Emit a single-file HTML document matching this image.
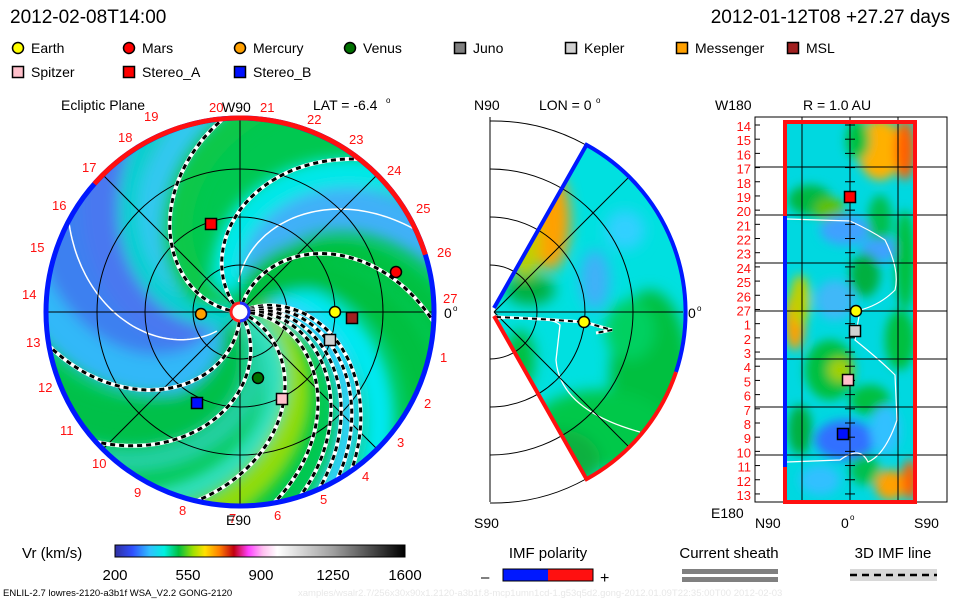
<!DOCTYPE html>
<html><head><meta charset="utf-8">
<style>
body{margin:0;background:#fff;}
svg{display:block;font-family:"Liberation Sans","DejaVu Sans",sans-serif;}
</style></head>
<body>
<svg id="s" width="960" height="600" viewBox="0 0 960 600" xmlns="http://www.w3.org/2000/svg">
<defs>
<clipPath id="disk"><circle cx="240" cy="312" r="194"/></clipPath>
<clipPath id="wedge"><path d="M494,312 L586.5,144.9 A191,191 0 0 1 586.5,479.1 Z"/></clipPath>
<clipPath id="rect"><rect x="785" y="122" width="130" height="380"/></clipPath>
<filter id="bl" x="-20%" y="-20%" width="140%" height="140%"><feGaussianBlur stdDeviation="7"/></filter>
<filter id="bl2" x="-20%" y="-20%" width="140%" height="140%"><feGaussianBlur stdDeviation="5"/></filter>
<linearGradient id="cb" x1="0" x2="1" y1="0" y2="0">
<stop offset="0" stop-color="#3030a0"/><stop offset="0.06" stop-color="#3050ff"/>
<stop offset="0.12" stop-color="#30c0ff"/><stop offset="0.17" stop-color="#00f0e0"/>
<stop offset="0.22" stop-color="#00c040"/><stop offset="0.27" stop-color="#a0e000"/>
<stop offset="0.31" stop-color="#ffe000"/><stop offset="0.36" stop-color="#ff8000"/>
<stop offset="0.41" stop-color="#c00010"/><stop offset="0.46" stop-color="#ff40ff"/>
<stop offset="0.51" stop-color="#ffc0f0"/><stop offset="0.56" stop-color="#ffffff"/>
<stop offset="0.75" stop-color="#a0a0a0"/><stop offset="1" stop-color="#000000"/>
</linearGradient>
</defs>
<g id="g"></g>
</svg>
<script>
var NS="http://www.w3.org/2000/svg",G=document.getElementById('g');
function el(t,a,p){var e=document.createElementNS(NS,t);for(var k in a)e.setAttribute(k,a[k]);(p||G).appendChild(e);return e;}
function tx(x,y,s,a){a=a||{};a.x=x;a.y=y;a['font-size']=a['font-size']||14;var e=el('text',a);e.textContent=s;return e;}
var cx=240,cy=312,R=194,K=0.0072;
function spiral(phiRimDeg,r0,r1){var pts=[];var pr=phiRimDeg*Math.PI/180;for(var r=r0;r<=r1;r+=3){var p=pr-K*(R-r);pts.push((cx+r*Math.cos(p)).toFixed(1)+','+(cy+r*Math.sin(p)).toFixed(1));}return pts.join(' ');}
var dg=el('g',{'clip-path':'url(#disk)'});
el('circle',{cx:cx,cy:cy,r:R,fill:'#00c850'},dg);
var bands=el('g',{filter:'url(#bl)'},dg);
[[205,'#3c80f0',75],[230,'#4a78f0',55],[180,'#30b8f8',40],[255,'#30c8f0',35],[150,'#00c048',45],[130,'#20d0a0',25],[-25,'#40b0f8',45],[-45,'#00e8e8',30],[45,'#00e8f0',30],[62,'#30d0ff',22],[95,'#90dc10',30],[110,'#30e0c0',20],[-90,'#10c848',30],[-120,'#00d0d0',20],[20,'#00c040',30],[0,'#00c040',20]].forEach(function(b){
 el('polyline',{points:spiral(b[0],0,R+40),fill:'none',stroke:b[1],'stroke-width':b[2]},bands);});
el('polyline',{points:spiral(208,30,R),fill:'none',stroke:'#fff','stroke-width':1.5},dg);
el('polyline',{points:spiral(-25,30,R),fill:'none',stroke:'#fff','stroke-width':1.5},dg);
var gg=el('g',{stroke:'#000','stroke-width':1,fill:'none'},dg);
[47,95,143].forEach(function(r){el('circle',{cx:cx,cy:cy,r:r},gg);});
el('line',{x1:cx-R,y1:cy,x2:cx+R,y2:cy},gg);el('line',{x1:cx,y1:cy-R,x2:cx,y2:cy+R},gg);
el('line',{x1:cx-140,y1:cy-140,x2:cx+140,y2:cy+140},gg);el('line',{x1:cx-140,y1:cy+140,x2:cx+140,y2:cy-140},gg);
[-95,-52,3,55,60,66,72,80,103,138,170].forEach(function(a){
 var p=spiral(a,10,R);
 el('polyline',{points:p,fill:'none',stroke:'#fff','stroke-width':4},dg);
 el('polyline',{points:p,fill:'none',stroke:'#000','stroke-width':3,'stroke-dasharray':'5,4'},dg);});
el('circle',{cx:cx,cy:cy,r:R,fill:'none',stroke:'#0018ff','stroke-width':5});
el('path',{d:'M'+(cx+R*Math.cos(-2.42))+','+(cy+R*Math.sin(-2.42))+' A'+R+','+R+' 0 0 1 '+(cx+R*Math.cos(-0.3))+','+(cy+R*Math.sin(-0.3)),fill:'none',stroke:'#ff1010','stroke-width':5});
el('circle',{cx:cx,cy:cy,r:9,fill:'#fff',stroke:'#ff2020','stroke-width':3});
el('path',{d:'M240,303 A9,9 0 0 1 240,321',fill:'none',stroke:'#2030ff','stroke-width':3});
var L=[['19',144,121],['20',209,112],['21',260,112],['22',307,124],['23',349,144],['24',387,175],['25',416,213],['26',437,257],['27',443,303],['1',440,362],['2',424,408],['3',397,447],['4',362,481],['5',320,504],['6',274,520],['7',229,523],['8',179,515],['9',134,497],['10',92,468],['11',60,435],['12',38,392],['13',26,347],['14',22,299],['15',30,252],['16',52,210],['17',82,172],['18',118,142]];
L.forEach(function(l){tx(l[1],l[2],l[0],{fill:'#ff1010','font-size':13});});
tx(444,318,'0',{'font-size':14});tx(453,311,'o',{'font-size':8});
tx(222,112,'W90',{'font-size':14});tx(226,525,'E90',{'font-size':14});
tx(61,110,'Ecliptic Plane',{'font-size':14});tx(313,110,'LAT = -6.4',{'font-size':14});tx(386,103,'o',{'font-size':8});
function circ(x,y,c){el('circle',{cx:x,cy:y,r:5.5,fill:c,stroke:'#000','stroke-width':1.5});}
function sq(x,y,c){el('rect',{x:x-5.5,y:y-5.5,width:11,height:11,fill:c,stroke:'#000','stroke-width':1.5});}
circ(396,272,'#ff0000');circ(335,312,'#ffff00');circ(201,314,'#ffa000');circ(258,378,'#007000');
sq(211,224,'#ff0000');sq(352,318,'#a02020');sq(330,340,'#d0d0d0');sq(282,399,'#ffc0cb');sq(197,403,'#0010ff');
var wg=el('g',{'clip-path':'url(#wedge)'});
el('rect',{x:490,y:117,width:200,height:390,fill:'#00e0e0'},wg);
var wb=el('g',{filter:'url(#bl)'},wg);
el('ellipse',{cx:650,cy:380,rx:40,ry:90,fill:'#00c040'},wb);
el('ellipse',{cx:600,cy:430,rx:70,ry:40,fill:'#00c848'},wb);
el('ellipse',{cx:560,cy:460,rx:40,ry:30,fill:'#10b040'},wb);
el('ellipse',{cx:550,cy:220,rx:20,ry:50,fill:'#ffa000'},wb);
el('ellipse',{cx:525,cy:245,rx:15,ry:35,fill:'#c0d000'},wb);
el('ellipse',{cx:530,cy:290,rx:25,ry:15,fill:'#00b040'},wb);
el('ellipse',{cx:595,cy:280,rx:15,ry:30,fill:'#40b0f8'},wb);
el('ellipse',{cx:625,cy:230,rx:20,ry:20,fill:'#30d0ff'},wb);
el('ellipse',{cx:630,cy:330,rx:25,ry:30,fill:'#00d060'},wb);
el('ellipse',{cx:520,cy:360,rx:15,ry:30,fill:'#00c040'},wb);
el('path',{d:'M496,319 Q550,315 560,325 L556,360 Q560,410 640,432',fill:'none',stroke:'#fff','stroke-width':1.3},wg);
var mg=el('g',{stroke:'#000','stroke-width':1,fill:'none'});
[47,95,143].forEach(function(r){el('path',{d:'M490,'+(312-r)+' A'+r+','+r+' 0 0 1 490,'+(312+r)},mg);});
el('path',{d:'M490,121 A191,191 0 0 1 586,145 M586,479 A191,191 0 0 1 490,503',fill:'none'},mg);
el('line',{x1:490,y1:117,x2:490,y2:502},mg);el('line',{x1:494,y1:312,x2:683,y2:312},mg);
el('line',{x1:494,y1:312,x2:629,y2:177},mg);el('line',{x1:494,y1:312,x2:629,y2:447},mg);
el('polyline',{points:'496,317 540,319 584,322 612,330 596,333',fill:'none',stroke:'#fff','stroke-width':3});
el('polyline',{points:'496,317 540,319 584,322 612,330 596,333',fill:'none',stroke:'#000','stroke-width':2,'stroke-dasharray':'5,4'});
el('path',{d:'M494,308 L586.5,144.9 A191,191 0 0 1 676,372',fill:'none',stroke:'#0018ff','stroke-width':4});
el('path',{d:'M676,372 A191,191 0 0 1 586.5,479.1 L494,316',fill:'none',stroke:'#ff1010','stroke-width':4});
circ(584,322,'#ffff00');
tx(474,110,'N90',{'font-size':14});tx(539,110,'LON = 0',{'font-size':14});tx(596,103,'o',{'font-size':8});
tx(688,318,'0',{'font-size':14});tx(697,311,'o',{'font-size':8});tx(474,528,'S90',{'font-size':14});
var rg=el('g',{'clip-path':'url(#rect)'});
el('rect',{x:785,y:122,width:130,height:380,fill:'#00d8e0'},rg);
var rb=el('g',{filter:'url(#bl2)'},rg);
[[880,150,22,30,'#ffb000'],[905,150,10,30,'#ff6000'],[858,140,12,20,'#00c040'],[810,200,22,15,'#00b840'],[830,210,15,12,'#60c000'],[880,220,12,25,'#00c050'],[845,230,25,15,'#40a0ff'],[880,250,20,12,'#40a0ff'],[905,260,10,50,'#00c040'],[865,275,15,22,'#00b040'],[795,320,10,30,'#ffa000'],[800,300,10,25,'#c0d000'],[835,300,20,20,'#40b8f8'],[900,340,15,30,'#00c040'],[830,370,25,30,'#00c040'],[840,370,12,12,'#a0d000'],[870,400,20,15,'#00c040'],[845,440,30,20,'#3070ff'],[800,430,12,25,'#00b040'],[885,430,15,25,'#30c0ff'],[890,485,15,15,'#ffa000'],[910,480,8,20,'#ff6000'],[820,480,20,15,'#30c0ff'],[865,470,15,15,'#00c050']].forEach(function(e){el('ellipse',{cx:e[0],cy:e[1],rx:e[2],ry:e[3],fill:e[4]},rb);});
el('path',{d:'M787,219 L850,221 Q870,230 885,240 Q900,270 895,290 Q880,305 860,310 L855,340 Q880,360 895,375 L897,420 Q885,455 868,462 Q860,445 840,460 L787,462',fill:'none',stroke:'#fff','stroke-width':1.2},rg);
var rgr=el('g',{stroke:'#000','stroke-width':1});
el('rect',{x:755,y:117,width:192,height:385,fill:'none'},rgr);
[802,850,898].forEach(function(x){el('line',{x1:x,y1:117,x2:x,y2:502},rgr);});
[167,215,263,311,359,407,455].forEach(function(y){el('line',{x1:755,y1:y,x2:947,y2:y},rgr);});
for(var i=0;i<27;i++){var y=125+i*14.19;el('line',{x1:755,y1:y,x2:760,y2:y},rgr);el('line',{x1:845,y1:y,x2:855,y2:y},rgr);
 var lab=i<14?String(14+i):String(i-13);tx(751,y+6,lab,{fill:'#ff1010','font-size':13,'text-anchor':'end'});}
el('path',{d:'M785,216 L785,122 L915,122 L915,502 L785,502 L785,467',fill:'none',stroke:'#ff1010','stroke-width':4});
el('line',{x1:785,y1:216,x2:785,y2:467,stroke:'#0018ff','stroke-width':4});
sq(850,197,'#ff0000');circ(856,311,'#ffff00');sq(855,331,'#d0d0d0');sq(848,380,'#ffc0cb');sq(843,434,'#0010ff');
tx(715,110,'W180',{'font-size':14});tx(803,110,'R = 1.0 AU',{'font-size':14});
tx(711,518,'E180',{'font-size':14});tx(755,528,'N90',{'font-size':14});tx(841,528,'0',{'font-size':14});tx(850,520,'o',{'font-size':8});tx(914,528,'S90',{'font-size':14});
tx(10,23,'2012-02-08T14:00',{'font-size':19});
tx(950,23,'2012-01-12T08 +27.27 days',{'font-size':19,'text-anchor':'end'});
var leg=[['c','#ffff00','Earth',18,48],['c','#ff0000','Mars',129,48],['c','#ffa000','Mercury',240,48],['c','#007000','Venus',350,48],['s','#808080','Juno',460,48],['s','#d0d0d0','Kepler',571,48],['s','#ffa000','Messenger',682,48],['s','#a02020','MSL',793,48],['s','#ffc0cb','Spitzer',18,72],['s','#ff0000','Stereo_A',129,72],['s','#0010ff','Stereo_B',240,72]];
leg.forEach(function(l){if(l[0]=='c')circ(l[3],l[4],l[1]);else sq(l[3],l[4],l[1]);tx(l[3]+13,l[4]+5,l[2],{'font-size':14});});
tx(22,558,'Vr (km/s)',{'font-size':15});
el('rect',{x:115,y:545,width:290,height:12,fill:'url(#cb)',stroke:'#000','stroke-width':1});
[['200',115],['550',188],['900',261],['1250',333],['1600',405]].forEach(function(t){tx(t[1],580,t[0],{'font-size':15,'text-anchor':'middle'});});
tx(548,558,'IMF polarity',{'font-size':15,'text-anchor':'middle'});
el('rect',{x:503,y:569,width:45,height:12,fill:'#0018ff'});el('rect',{x:548,y:569,width:45,height:12,fill:'#ff1010'});
el('rect',{x:503,y:569,width:90,height:12,fill:'none',stroke:'#000','stroke-width':1});
tx(481,582,'\u2013',{'font-size':15});tx(600,583,'+',{'font-size':16});
tx(729,558,'Current sheath',{'font-size':15,'text-anchor':'middle'});
el('rect',{x:682,y:569,width:96,height:5,fill:'#808080'});el('rect',{x:682,y:577,width:96,height:5,fill:'#808080'});
tx(893,558,'3D IMF line',{'font-size':15,'text-anchor':'middle'});
el('rect',{x:850,y:569,width:87,height:12,fill:'#d8d8d8'});
el('line',{x1:850,y1:575,x2:937,y2:575,stroke:'#000','stroke-width':2.5,'stroke-dasharray':'7,5'});
tx(3,596,'ENLIL-2.7 lowres-2120-a3b1f WSA_V2.2 GONG-2120',{'font-size':9.5});
tx(298,596,'xamples/wsalr2.7/256x30x90x1.2120-a3b1f.8-mcp1umn1cd-1.g53q5d2.gong-2012.01.09T22:35:00T00   2012-02-03',{'font-size':9.5,fill:'#e8e8e8'});
</script>
</body></html>
